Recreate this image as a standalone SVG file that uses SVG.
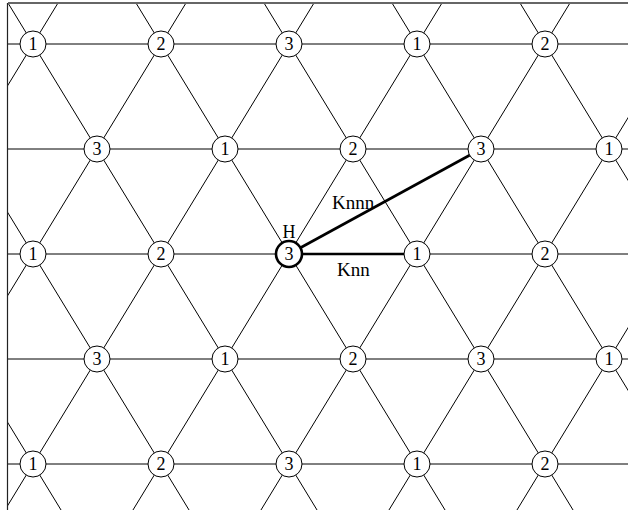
<svg xmlns="http://www.w3.org/2000/svg" width="628" height="510" viewBox="0 0 628 510">
<defs>
<clipPath id="frame"><rect x="8" y="3" width="620" height="507"/></clipPath>
<style>
.lat line{stroke:#000;stroke-width:1;fill:none}
.node circle{fill:#fff;stroke:#000;stroke-width:1}
.node text{font-family:"Liberation Serif","Times New Roman",serif;font-size:18px;text-anchor:middle;fill:#000}
.hot{stroke:#000;stroke-width:2.6;fill:none}
.lbl{font-family:"Liberation Serif","Times New Roman",serif;font-size:19px;fill:#000}
</style>
</defs>
<rect width="628" height="510" fill="#fff"/>
<g id="connectors">
<g class="lat" clip-path="url(#frame)">
<line x1="8" y1="44" x2="628" y2="44"/>
<line x1="8" y1="149" x2="628" y2="149"/>
<line x1="8" y1="254" x2="628" y2="254"/>
<line x1="8" y1="359" x2="628" y2="359"/>
<line x1="8" y1="464" x2="628" y2="464"/>
<line x1="-287" y1="-61" x2="97" y2="569"/>
<line x1="-159" y1="-61" x2="225" y2="569"/>
<line x1="-31" y1="-61" x2="353" y2="569"/>
<line x1="97" y1="-61" x2="481" y2="569"/>
<line x1="225" y1="-61" x2="609" y2="569"/>
<line x1="353" y1="-61" x2="737" y2="569"/>
<line x1="481" y1="-61" x2="865" y2="569"/>
<line x1="97" y1="-61" x2="-287" y2="569"/>
<line x1="225" y1="-61" x2="-159" y2="569"/>
<line x1="353" y1="-61" x2="-31" y2="569"/>
<line x1="481" y1="-61" x2="97" y2="569"/>
<line x1="609" y1="-61" x2="225" y2="569"/>
<line x1="737" y1="-61" x2="353" y2="569"/>
<line x1="865" y1="-61" x2="481" y2="569"/>
</g>
<line x1="8" y1="3" x2="628" y2="3" stroke="#666" stroke-width="2"/>
<line x1="7.5" y1="3" x2="7.5" y2="510" stroke="#222" stroke-width="1.2"/>
<line class="hot" x1="289" y1="254" x2="417" y2="254"/>
<line class="hot" x1="289" y1="254" x2="481" y2="149"/>
<text class="lbl" x="332" y="209">Knnn</text>
<text class="lbl" x="337" y="276">Knn</text>
</g>
<g id="n0_0" class="node"><circle cx="33" cy="44" r="13"/><text x="33" y="50">1</text></g>
<g id="n0_1" class="node"><circle cx="161" cy="44" r="13"/><text x="161" y="50">2</text></g>
<g id="n0_2" class="node"><circle cx="289" cy="44" r="13"/><text x="289" y="50">3</text></g>
<g id="n0_3" class="node"><circle cx="417" cy="44" r="13"/><text x="417" y="50">1</text></g>
<g id="n0_4" class="node"><circle cx="545" cy="44" r="13"/><text x="545" y="50">2</text></g>
<g id="n1_0" class="node"><circle cx="97" cy="149" r="13"/><text x="97" y="155">3</text></g>
<g id="n1_1" class="node"><circle cx="225" cy="149" r="13"/><text x="225" y="155">1</text></g>
<g id="n1_2" class="node"><circle cx="353" cy="149" r="13"/><text x="353" y="155">2</text></g>
<g id="n1_3" class="node"><circle cx="481" cy="149" r="13"/><text x="481" y="155">3</text></g>
<g id="n1_4" class="node"><circle cx="609" cy="149" r="13"/><text x="609" y="155">1</text></g>
<g id="n2_0" class="node"><circle cx="33" cy="254" r="13"/><text x="33" y="260">1</text></g>
<g id="n2_1" class="node"><circle cx="161" cy="254" r="13"/><text x="161" y="260">2</text></g>
<g id="nH" class="node"><circle cx="289" cy="254" r="13" style="stroke-width:2.6"/><text x="289" y="260">3</text><text x="289" y="238">H</text></g>
<g id="n2_3" class="node"><circle cx="417" cy="254" r="13"/><text x="417" y="260">1</text></g>
<g id="n2_4" class="node"><circle cx="545" cy="254" r="13"/><text x="545" y="260">2</text></g>
<g id="n3_0" class="node"><circle cx="97" cy="359" r="13"/><text x="97" y="365">3</text></g>
<g id="n3_1" class="node"><circle cx="225" cy="359" r="13"/><text x="225" y="365">1</text></g>
<g id="n3_2" class="node"><circle cx="353" cy="359" r="13"/><text x="353" y="365">2</text></g>
<g id="n3_3" class="node"><circle cx="481" cy="359" r="13"/><text x="481" y="365">3</text></g>
<g id="n3_4" class="node"><circle cx="609" cy="359" r="13"/><text x="609" y="365">1</text></g>
<g id="n4_0" class="node"><circle cx="33" cy="464" r="13"/><text x="33" y="470">1</text></g>
<g id="n4_1" class="node"><circle cx="161" cy="464" r="13"/><text x="161" y="470">2</text></g>
<g id="n4_2" class="node"><circle cx="289" cy="464" r="13"/><text x="289" y="470">3</text></g>
<g id="n4_3" class="node"><circle cx="417" cy="464" r="13"/><text x="417" y="470">1</text></g>
<g id="n4_4" class="node"><circle cx="545" cy="464" r="13"/><text x="545" y="470">2</text></g>
</svg>
